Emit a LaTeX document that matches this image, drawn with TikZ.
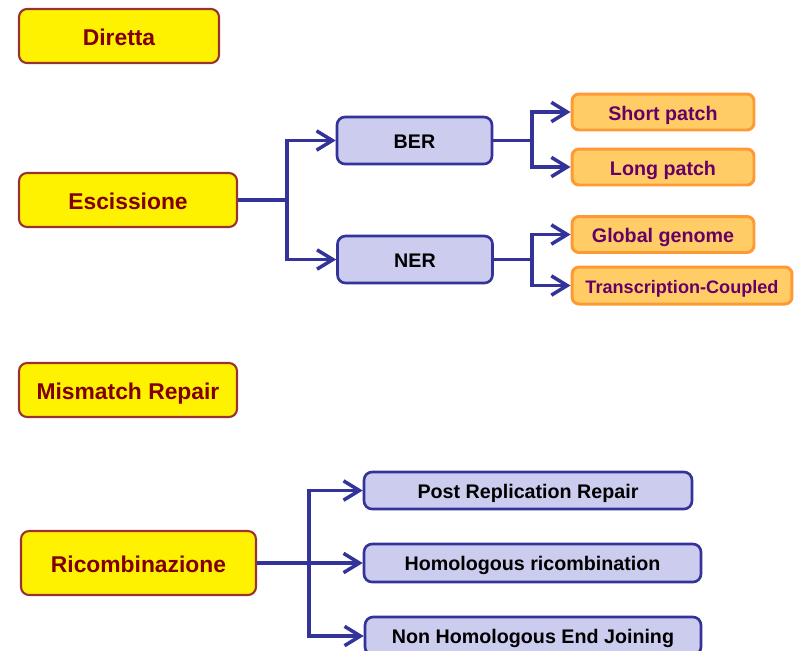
\documentclass[tikz,border=0pt]{standalone}
\usepackage{fontspec}
\setmainfont{Liberation Sans}
\usepackage{xcolor}
\usetikzlibrary{arrows.meta, positioning}

\definecolor{repblue}{HTML}{333399}
\definecolor{repblufill}{HTML}{CCCCEE}
\definecolor{repred}{HTML}{993333}
\definecolor{reptext}{HTML}{800000}
\definecolor{reporange}{HTML}{FF9933}
\definecolor{reporfill}{HTML}{FFCC66}
\definecolor{reppurple}{HTML}{660066}

\begin{document}
\begin{tikzpicture}[x=0.02cm, y=-0.02cm,
  mainbox/.style={draw=repred, line width=1.2pt, fill=yellow, rounded corners=0.16cm,
    text=reptext, font=\bfseries\fontsize{13}{15}\selectfont, minimum height=1.08cm,
    text height=11pt, text depth=0pt},
  subbox/.style={draw=repblue, line width=1.5pt, fill=repblufill, rounded corners=0.16cm,
    text=black, font=\bfseries\fontsize{11.2}{13}\selectfont, text height=9pt, text depth=0pt},
  leafbox/.style={draw=reporange, line width=1.7pt, fill=reporfill, rounded corners=0.14cm,
    text=reppurple, font=\bfseries\fontsize{11.2}{13}\selectfont, minimum height=0.72cm,
    text height=9.2pt, text depth=0pt},
  branch/.style={draw=repblue, line width=2pt, -{Straight Barb[length=9pt, width=11pt, line width=2pt]}},
  feed/.style={draw=repblue, line width=2.2pt}]
  \useasboundingbox (0,0) rectangle (797,650);

  % main categories
  \node[mainbox, minimum width=4.0cm] (dir) at (119,36) {Diretta};
  \node[mainbox, minimum width=4.36cm] (esc) at (128,200) {Escissione};
  \node[mainbox, minimum width=4.36cm] (mmr) at (128,390) {Mismatch Repair};
  \node[mainbox, minimum width=4.7cm, minimum height=1.28cm] (ric) at (138.5,563) {Ricombinazione};

  % excision repair
  \node[subbox, minimum width=3.1cm, minimum height=0.94cm] (ber) at (414.5,140.5) {BER};
  \node[subbox, minimum width=3.1cm, minimum height=0.94cm] (ner) at (415,259.5) {NER};
  \node[leafbox, minimum width=3.64cm] (shp) at (663,112) {Short patch};
  \node[leafbox, minimum width=3.64cm] (lop) at (663,167) {Long patch};
  \node[leafbox, minimum width=3.64cm] (glg) at (663,234.5) {Global genome};
  \node[leafbox, minimum width=4.4cm, minimum height=0.74cm,
    font=\bfseries\fontsize{10.3}{12}\selectfont] (trc) at (682,285.5) {Transcription-Coupled};

  % recombination
  \node[subbox, minimum width=6.56cm, minimum height=0.74cm] (prr) at (528,490.5) {Post Replication Repair};
  \node[subbox, minimum width=6.74cm, minimum height=0.76cm] (hom) at (532.5,563) {Homologous ricombination};
  \node[subbox, minimum width=6.72cm, minimum height=0.76cm] (nhej) at (533,636) {Non Homologous End Joining};

  % forks
  \coordinate (escfork) at (287,200);
  \coordinate (berfork) at (532,140.5);
  \coordinate (nerfork) at (532,259.5);
  \coordinate (ricfork) at (309,563);

  \draw[feed] (esc.east) -- (escfork);
  \draw[branch] (escfork) |- (ber.west);
  \draw[branch] (escfork) |- (ner.west);

  \draw[feed] (ber.east) -- (berfork);
  \draw[branch] (berfork) |- (shp.west);
  \draw[branch] (berfork) |- (lop.west);

  \draw[feed] (ner.east) -- (nerfork);
  \draw[branch] (nerfork) |- (glg.west);
  \draw[branch] (nerfork) |- (trc.west);

  \draw[feed] (ric.east) -- (ricfork);
  \draw[branch] (ricfork) |- (prr.west);
  \draw[branch] (ricfork) -- (hom.west);
  \draw[branch] (ricfork) |- (nhej.west);
\end{tikzpicture}
\end{document}
